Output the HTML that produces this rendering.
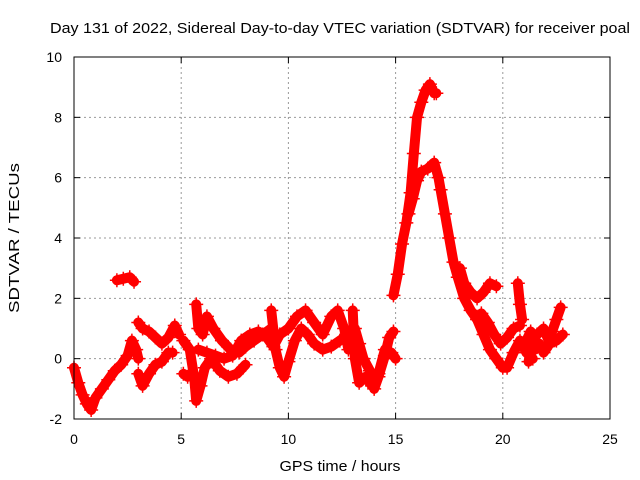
<!DOCTYPE html>
<html><head><meta charset="utf-8"><style>
body{margin:0;background:#fff;}
svg{display:block;font-family:"Liberation Sans",sans-serif;}
</style></head><body>
<svg id="chart" width="640" height="480">
<text x="340" y="33" font-size="15" text-anchor="middle" textLength="580" lengthAdjust="spacingAndGlyphs">Day 131 of 2022, Sidereal Day-to-day VTEC variation (SDTVAR) for receiver poal</text>
<text x="340" y="471" font-size="15" text-anchor="middle" textLength="121" lengthAdjust="spacingAndGlyphs">GPS time / hours</text>
<text x="19" y="238" font-size="15" text-anchor="middle" textLength="150" lengthAdjust="spacingAndGlyphs" transform="rotate(-90 19 238)">SDTVAR / TECUs</text>
<g id="grid"></g>
<g id="ticks"></g>
<g id="series"></g>
<rect x="74" y="57" width="536" height="362" fill="none" stroke="#000" stroke-width="1"/>
</svg>
<script>
const xTicks=[0,5,10,15,20,25];
const yTicks=[-2,0,2,4,6,8,10];
const trackA=[[0,-0.3],[0.2,-0.8],[0.4,-1.2],[0.6,-1.5],[0.8,-1.7],[1.0,-1.3],[1.3,-1.0],[1.6,-0.7],[1.9,-0.4],[2.2,-0.2],[2.5,0.1],[2.7,0.6],[2.9,0.3],[3.0,0.0]];
const trackB=[[3.0,1.2],[3.2,1.0],[3.5,0.9],[3.8,0.7],[4.1,0.5],[4.4,0.7],[4.7,1.1],[4.9,0.8]];
const trackC=[[3.0,-0.5],[3.2,-0.9],[3.5,-0.5],[3.8,-0.2],[4.1,-0.1],[4.4,0.2],[4.6,0.2]];
const trackD=[[2.0,2.6],[2.3,2.65],[2.6,2.7],[2.8,2.55]];
const trackE=[[5.1,0.6],[5.4,0.3],[5.6,-0.6],[5.7,-1.4],[5.9,-0.9],[6.1,-0.3],[6.4,0.0],[6.8,-0.4],[7.2,-0.6],[7.6,-0.5],[8.0,-0.2]];
const trackF=[[5.7,1.8],[5.8,1.0],[6.0,0.8],[6.2,1.4],[6.5,1.0],[6.9,0.6],[7.3,0.3],[7.7,0.2],[8.0,0.4],[8.4,0.6],[8.8,0.8],[9.2,1.0]];
const trackG=[[5.1,-0.5],[5.3,-0.6]];
const trackH=[[5.8,0.3],[6.2,0.2],[6.6,0.1],[7.0,0.0],[7.4,0.1],[7.8,0.6],[8.2,0.8],[8.6,0.9],[9.0,0.7],[9.3,0.4],[9.6,0.8],[10.0,1.0],[10.4,1.4],[10.8,1.6],[11.2,1.2],[11.6,0.8],[12.0,1.4],[12.3,1.6],[12.6,1.0],[12.8,0.3]];
const trackI=[[9.2,1.6],[9.4,0.3],[9.6,-0.3],[9.8,-0.6],[10.0,-0.1],[10.3,0.6],[10.6,1.0],[10.9,0.8],[11.2,0.5],[11.6,0.3],[12.0,0.4],[12.4,0.6],[12.8,0.8],[13.1,1.0],[13.3,0.5],[13.5,0.0],[13.8,-0.4],[14.0,-1.0],[14.2,-0.6],[14.5,0.1],[14.7,0.7],[14.9,0.9]];
const trackJ=[[13.0,1.6],[13.1,0.0],[13.3,-0.8],[13.6,-0.6],[13.9,-0.9],[14.2,-0.5],[14.5,0.3],[14.8,0.2],[15.0,0.0]];
const trackK=[[14.9,2.1],[15.1,2.8],[15.3,3.8],[15.5,4.5],[15.7,5.5],[15.85,6.8],[16.0,8.0],[16.2,8.5],[16.4,8.9],[16.6,9.1],[16.8,8.8],[16.9,8.8]];
const trackL=[[15.6,4.8],[15.8,5.3],[16.0,5.9],[16.2,6.2],[16.5,6.3],[16.8,6.5],[17.0,6.0],[17.1,5.6],[17.3,4.8],[17.5,4.0],[17.7,3.2],[17.9,2.7],[18.2,2.0],[18.5,1.6],[18.8,1.3],[19.1,0.8],[19.4,0.3],[19.7,0.0],[20.0,-0.3],[20.2,-0.3],[20.5,0.2],[20.8,0.6],[21.1,0.2],[21.4,0.0]];
const trackM=[[18.0,3.0],[18.2,2.5],[18.5,2.2],[18.8,2.0],[19.1,2.2],[19.4,2.5],[19.7,2.4]];
const trackN=[[19.0,1.5],[19.3,1.2],[19.6,0.8],[19.9,0.5],[20.2,0.7],[20.5,1.0],[20.8,1.1]];
const trackO=[[20.7,2.5],[20.8,1.8],[20.9,1.3]];
const trackP=[[21.1,0.6],[21.3,0.9],[21.5,0.3],[21.7,0.5],[21.9,0.2],[22.1,0.4],[22.3,0.9],[22.5,1.3],[22.7,1.7]];
const trackQ=[[21.2,-0.1],[21.4,0.6],[21.6,0.8],[21.9,1.0],[22.2,0.5],[22.5,0.6],[22.8,0.8]];
const tracks=[trackA,trackB,trackC,trackD,trackE,trackF,trackG,trackH,trackI,trackJ,trackK,trackL,trackM,trackN,trackO,trackP,trackQ];

const X0=74,X1=610,Y0=419,Y1=57;
const sx=t=>X0+(t-0)/(25-0)*(X1-X0);
const sy=v=>Y0-(v-(-2))/(10-(-2))*(Y0-Y1);
const NS="http://www.w3.org/2000/svg";
const grid=document.getElementById('grid'),ticks=document.getElementById('ticks'),ser=document.getElementById('series');
function mk(tag,attrs,parent){const e=document.createElementNS(NS,tag);for(const k in attrs)e.setAttribute(k,attrs[k]);parent.appendChild(e);return e;}
xTicks.forEach(t=>{
  const x=sx(t);
  if(t>0&&t<25){const g=mk('line',{x1:x,x2:x,y1:Y0,y2:Y1,stroke:'#999','stroke-dasharray':'2,3','stroke-width':1},grid);
  
  }
  mk('line',{x1:x,x2:x,y1:Y0,y2:Y0-6,stroke:'#000'},ticks);
  mk('line',{x1:x,x2:x,y1:Y1,y2:Y1+6,stroke:'#000'},ticks);
  const l=mk('text',{x:x,y:444,'font-size':14,'text-anchor':'middle'},ticks);l.textContent=t;
  
  
});
yTicks.forEach(v=>{
  const y=sy(v);
  if(v>-2&&v<10){const g=mk('line',{x1:X0,x2:X1,y1:y,y2:y,stroke:'#999','stroke-dasharray':'2,3','stroke-width':1},grid);
  
  }
  mk('line',{x1:X0,x2:X0+6,y1:y,y2:y,stroke:'#000'},ticks);
  mk('line',{x1:X1,x2:X1-6,y1:y,y2:y,stroke:'#000'},ticks);
  const l=mk('text',{x:62,y:y+5,'font-size':14,'text-anchor':'end'},ticks);l.textContent=v;
  
  
});
tracks.forEach(tr=>{
  const pts=tr.map(p=>sx(p[0])+','+sy(p[1])).join(' ');
  const pl=mk('polyline',{points:pts,fill:'none',stroke:'#f00','stroke-width':10,'stroke-linejoin':'round','stroke-linecap':'round'},ser);
  
  
  tr.forEach(p=>{
    const x=sx(p[0]),y=sy(p[1]);
    const m=mk('path',{d:`M${x-7} ${y}H${x+7}M${x} ${y-7}V${y+7}`,stroke:'#f00','stroke-width':1.5},ser);
    
    
  });
});
</script>
</body></html>
